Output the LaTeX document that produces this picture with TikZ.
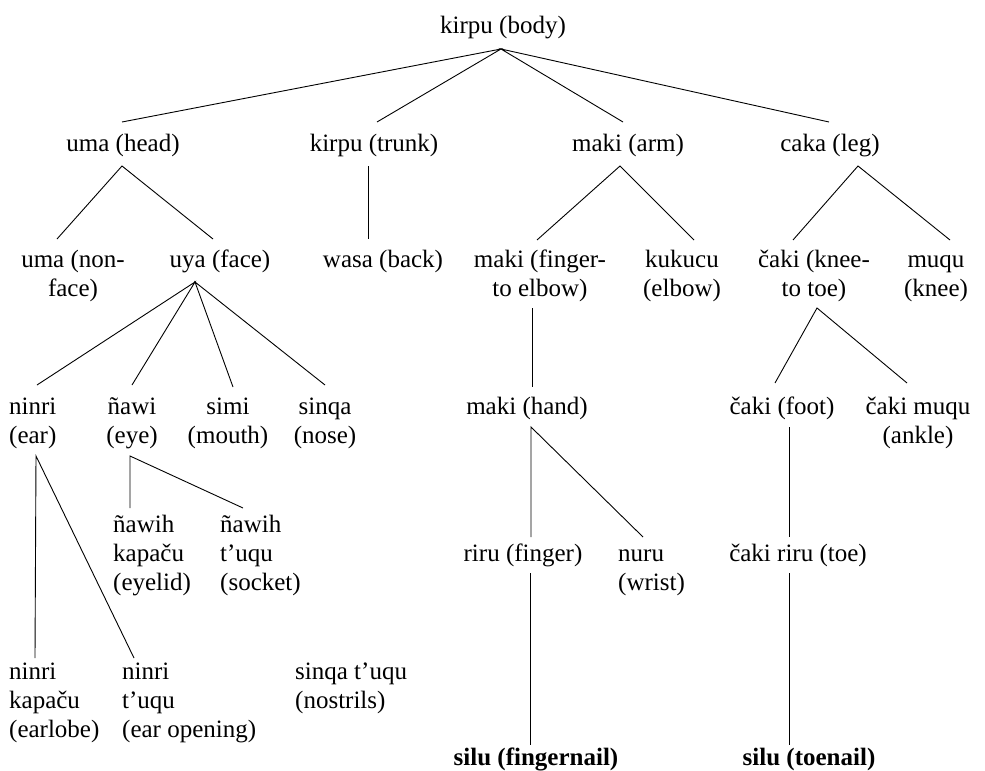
\documentclass[tikz,border=0pt]{standalone}
\usepackage{fontspec}
\setmainfont{Liberation Serif}
\newcommand\mline[2]{\begin{tabular}[t]{@{}#1@{}}#2\end{tabular}}
\begin{document}
\begin{tikzpicture}[x=1bp,y=-1bp,
  every node/.style={inner sep=0pt, font=\fontsize{25bp}{29bp}\selectfont},
  lbl/.style={anchor=base},
  lblw/.style={anchor=base west},
  conn/.style={draw=black, line width=0.9bp}]
\useasboundingbox (0,0) rectangle (985,771);
% level 0
\node[lbl] (body) at (503,33.5) {kirpu (body)};
% level 1
\node[lbl] (head) at (123,151.5) {uma (head)};
\node[lbl] (trunk) at (374,151.5) {kirpu (trunk)};
\node[lbl] (arm) at (628,151.5) {maki (arm)};
\node[lbl] (leg) at (830,151.5) {caka (leg)};
% level 2
\node[lbl] (nonface) at (73,267) {\mline{c}{uma (non-\\face)}};
\node[lbl] (face) at (220,267) {uya (face)};
\node[lbl] (back) at (383,267) {wasa (back)};
\node[lbl] (fte) at (540,267) {\mline{c}{maki (finger-\\to elbow)}};
\node[lbl] (elbow) at (682,267) {\mline{c}{kukucu\\(elbow)}};
\node[lbl] (ktt) at (814,267) {\mline{c}{čaki (knee-\\to toe)}};
\node[lbl] (knee) at (936,267) {\mline{c}{muqu\\(knee)}};
% level 3
\node[lblw] (ear) at (9,414.5) {\mline{l}{ninri\\(ear)}};
\node[lbl] (eye) at (132,414.5) {\mline{c}{ñawi\\(eye)}};
\node[lbl] (mouth) at (228,414.5) {\mline{c}{simi\\(mouth)}};
\node[lbl] (nose) at (325,414.5) {\mline{c}{sinqa\\(nose)}};
\node[lbl] (hand) at (527,414.5) {maki (hand)};
\node[lbl] (foot) at (782,414.5) {čaki (foot)};
\node[lbl] (ankle) at (918,414.5) {\mline{c}{čaki muqu\\(ankle)}};
% eye parts
\node[lblw] (eyelid) at (113,532.5) {\mline{l}{ñawih\\kapaču\\(eyelid)}};
\node[lblw] (socket) at (220,532.5) {\mline{l}{ñawih\\t’uqu\\(socket)}};
% level 4 (hand / foot)
\node[lbl] (finger) at (523,561.5) {riru (finger)};
\node[lblw] (wrist) at (618,561.5) {\mline{l}{nuru\\(wrist)}};
\node[lbl] (toe) at (798,561.5) {čaki riru (toe)};
% ear / nose parts
\node[lblw] (earlobe) at (9,679.5) {\mline{l}{ninri\\kapaču\\(earlobe)}};
\node[lblw] (earopen) at (122,679.5) {\mline{l}{ninri\\t’uqu\\(ear opening)}};
\node[lblw] (nostrils) at (295,679.5) {\mline{l}{sinqa t’uqu\\(nostrils)}};
% nails
\node[lbl] (fnail) at (536,765.5) {\bfseries silu (fingernail)};
\node[lbl] (tnail) at (809,765.5) {\bfseries silu (toenail)};
% connector end points
\coordinate (body-b) at (501,49);
\coordinate (head-t) at (122,122);
\coordinate (trunk-t) at (377,122);
\coordinate (arm-t) at (623,122);
\coordinate (leg-t) at (829,122);
\coordinate (head-b) at (122,166);
\coordinate (nonface-t) at (57,239);
\coordinate (face-t) at (213,239);
\coordinate (trunk-b) at (368,166);
\coordinate (back-t) at (368,239);
\coordinate (arm-b) at (620,166);
\coordinate (fte-t) at (537,240);
\coordinate (elbow-t) at (694,240);
\coordinate (leg-b) at (858,166);
\coordinate (ktt-t) at (793,240);
\coordinate (knee-t) at (950,240);
\coordinate (face-b) at (195,282);
\coordinate (ear-t) at (37,385);
\coordinate (eye-t) at (132,385);
\coordinate (mouth-t) at (233,387);
\coordinate (nose-t) at (325,385);
\coordinate (ear-b) at (36,456);
\coordinate (earlobe-t) at (35,658);
\coordinate (earopen-t) at (134,658);
\coordinate (eye-b) at (130,456);
\coordinate (eyelid-t) at (130,508);
\coordinate (socket-t) at (243,508);
\coordinate (fte-b) at (532,308);
\coordinate (hand-t) at (532,387);
\coordinate (hand-b) at (531,427);
\coordinate (finger-t) at (531,537);
\coordinate (wrist-t) at (643,537);
\coordinate (finger-b) at (530,573);
\coordinate (fnail-t) at (530,745);
\coordinate (ktt-b) at (817,308);
\coordinate (foot-t) at (775,383);
\coordinate (ankle-t) at (907,383);
\coordinate (foot-b) at (789,427);
\coordinate (toe-t) at (789,537);
\coordinate (toe-b) at (789,573);
\coordinate (tnail-t) at (789,745);
% connectors
\draw[conn] (head-t) -- (body-b) -- (trunk-t);
\draw[conn] (arm-t) -- (body-b) -- (leg-t);
\draw[conn] (nonface-t) -- (head-b) -- (face-t);
\draw[conn] (trunk-b) -- (back-t);
\draw[conn] (fte-t) -- (arm-b) -- (elbow-t);
\draw[conn] (ktt-t) -- (leg-b) -- (knee-t);
\draw[conn] (ear-t) -- (face-b) -- (eye-t);
\draw[conn] (mouth-t) -- (face-b) -- (nose-t);
\draw[conn] (earlobe-t) -- (ear-b) -- (earopen-t);
\draw[conn] (eyelid-t) -- (eye-b) -- (socket-t);
\draw[conn] (fte-b) -- (hand-t);
\draw[conn] (finger-t) -- (hand-b) -- (wrist-t);
\draw[conn] (finger-b) -- (fnail-t);
\draw[conn] (foot-t) -- (ktt-b) -- (ankle-t);
\draw[conn] (foot-b) -- (toe-t);
\draw[conn] (toe-b) -- (tnail-t);
\end{tikzpicture}
\end{document}
